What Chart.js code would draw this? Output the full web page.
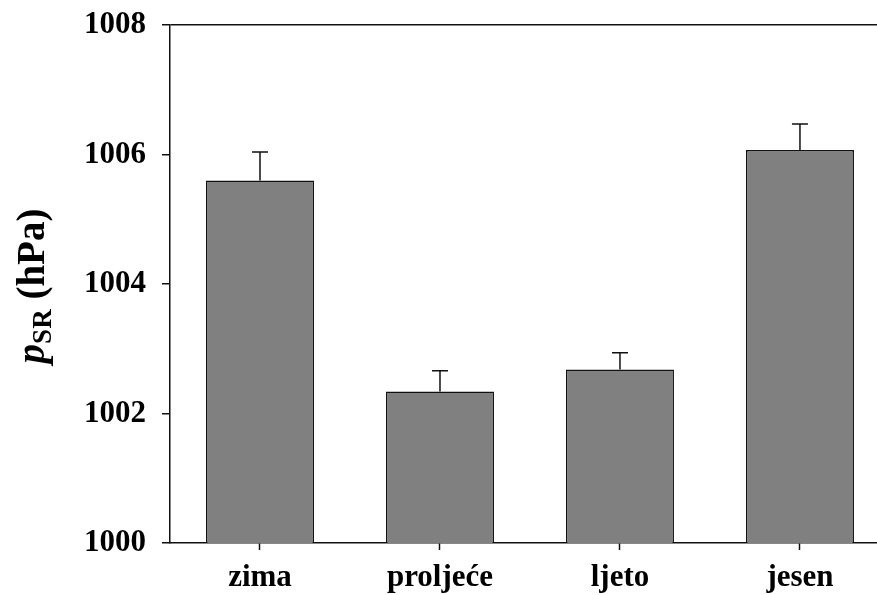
<!DOCTYPE html>
<html>
<head>
<meta charset="utf-8">
<script src="https://cdn.jsdelivr.net/npm/chart.js@4/dist/chart.umd.min.js"></script>
<style>
  html, body { margin: 0; padding: 0; background: #fff; overflow: hidden; }
  #wrap { width: 877px; height: 595px; position: relative; }
</style>
</head>
<body>
<div id="wrap"><canvas id="c" width="877" height="595"></canvas></div>
<script>
const categories = ['zima', 'proljeće', 'ljeto', 'jesen'];
const positions = [1, 2, 3, 4];
const meanPressure = [1005.60, 1002.34, 1002.68, 1006.07];
const errorUp = [0.44, 0.32, 0.26, 0.40];
const yTicks = [1000, 1002, 1004, 1006, 1008];

const FONT = "'Liberation Serif', 'Times New Roman', serif";

const errorBars = {
  id: 'errorBars',
  afterDatasetsDraw(chart) {
    const xs = chart.scales.x, ys = chart.scales.y, ctx = chart.ctx;
    ctx.save();
    ctx.strokeStyle = '#111';
    ctx.lineWidth = 1.5;
    for (let i = 0; i < meanPressure.length; i++) {
      const x = xs.getPixelForValue(positions[i]);
      const y0 = ys.getPixelForValue(meanPressure[i]);
      const y1 = ys.getPixelForValue(meanPressure[i] + errorUp[i]);
      ctx.beginPath();
      ctx.moveTo(x, y0);
      ctx.lineTo(x, y1);
      ctx.moveTo(x - 8, y1);
      ctx.lineTo(x + 8, y1);
      ctx.stroke();
    }
    ctx.restore();
  }
};

const yTitle = {
  id: 'yTitle',
  afterDraw(chart) {
    const ctx = chart.ctx;
    const area = chart.chartArea;
    const cy = (area.top + area.bottom) / 2 + 2;
    const big = 39, small = 27;
    const fP = "italic bold " + big + "px " + FONT;
    const fS = "bold " + small + "px " + FONT;
    const fT = "bold " + big + "px " + FONT;
    ctx.save();
    ctx.fillStyle = '#000';
    ctx.textBaseline = 'alphabetic';
    ctx.font = fP; const wP = ctx.measureText('p').width;
    ctx.font = fS; const wS = ctx.measureText('SR').width;
    ctx.font = fT; const wT = ctx.measureText(' (hPa)').width;
    const total = wP + wS + wT;
    ctx.translate(44, cy);
    ctx.rotate(-Math.PI / 2);
    let x = -total / 2;
    ctx.font = fP; ctx.fillText('p', x, 0); x += wP;
    ctx.font = fS; ctx.fillText('SR', x, 7); x += wS;
    ctx.font = fT; ctx.fillText(' (hPa)', x, 0);
    ctx.restore();
  }
};

new Chart(document.getElementById('c'), {
  type: 'bar',
  data: {
    datasets: [{
      data: positions.map((p, i) => ({ x: p, y: meanPressure[i] })),
      backgroundColor: '#808080',
      borderColor: '#111',
      borderWidth: 1.5,
      borderSkipped: 'start',
      barPercentage: 0.6,
      categoryPercentage: 1.0
    }]
  },
  options: {
    responsive: false,
    animation: false,
    events: [],
    layout: { padding: { top: 25, right: 0, left: 0, bottom: 0 } },
    plugins: { legend: { display: false }, tooltip: { enabled: false } },
    scales: {
      x: {
        type: 'linear',
        offset: false,
        min: 0.5,
        max: 4.428,
        afterBuildTicks(scale) { scale.ticks = positions.map(v => ({ value: v })); },
        afterFit(scale) { scale.height = 52; scale.paddingLeft = 0; scale.paddingRight = 0; },
        ticks: {
          callback: (v) => categories[positions.indexOf(v)] || '',
          font: { family: FONT, size: 31, weight: 'bold' },
          color: '#000',
          padding: 9,
          maxRotation: 0,
          autoSkip: false
        },
        grid: { offset: false, drawOnChartArea: false, tickLength: 7, tickColor: '#111', tickWidth: 1.5 },
        border: { color: '#111', width: 1.5 }
      },
      y: {
        min: 1000,
        max: 1008,
        afterBuildTicks(scale) { scale.ticks = yTicks.map(v => ({ value: v })); },
        afterFit(scale) { scale.width = 170; scale.paddingTop = 0; scale.paddingBottom = 0; },
        ticks: {
          font: { family: FONT, size: 31, weight: 'bold' },
          color: '#000',
          padding: 16,
          callback: (v) => String(v)
        },
        grid: {
          color: (c) => (c.tick && c.tick.value === 1008) ? '#111' : 'rgba(0,0,0,0)',
          lineWidth: 1.5,
          tickColor: '#111',
          tickLength: 8,
          tickWidth: 1.5
        },
        border: { color: '#111', width: 1.5 }
      }
    }
  },
  plugins: [errorBars, yTitle]
});
</script>
</body>
</html>
